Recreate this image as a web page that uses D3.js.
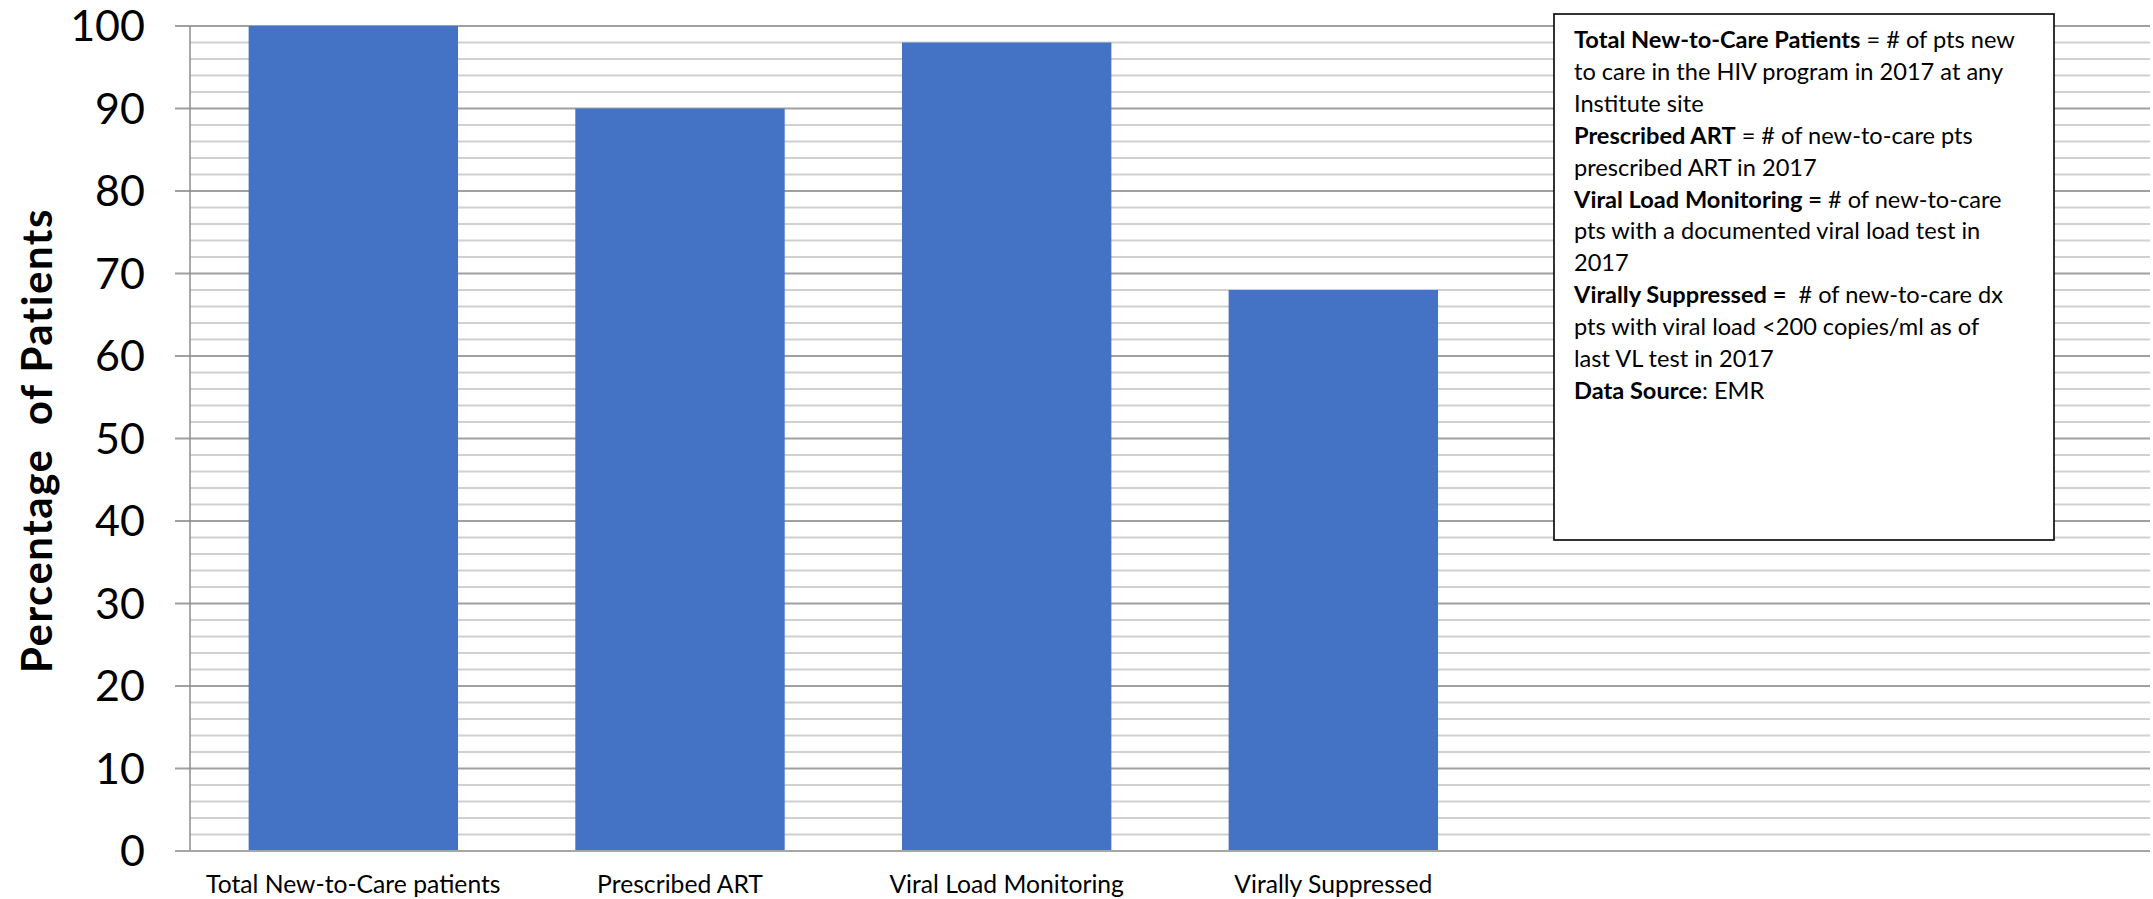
<!DOCTYPE html>
<html>
<head>
<meta charset="utf-8">
<script src="https://cdn.jsdelivr.net/npm/d3@7"></script>
<style>
  html, body { margin: 0; padding: 0; background: #fff; }
  svg { display: block; font-family: Lato, "Open Sans", sans-serif; }
</style>
</head>
<body>
<svg id="chart" width="2153" height="899"></svg>
<script>
// Category labels and their percentages
const categories = ["Total New-to-Care patients", "Prescribed ART", "Viral Load Monitoring", "Virally Suppressed"];
const values = [100, 90, 98, 68];
// The category axis holds six slots; the last two are left empty
const slotCount = 6;
const yMajorTicks = [0, 10, 20, 30, 40, 50, 60, 70, 80, 90, 100];
const yMinorStep = 2;
const yTitle = "Percentage\u00a0\u00a0of Patients";

// Definitions shown in the note box: [text, bold] parts per line
const noteLines = [
  [["Total New-to-Care Patients", true], [" = # of pts new", false]],
  [["to care in the HIV program in 2017 at any", false]],
  [["Institute site", false]],
  [["Prescribed ART", true], [" = # of new-to-care pts", false]],
  [["prescribed ART in 2017", false]],
  [["Viral Load Monitoring =", true], [" # of new-to-care", false]],
  [["pts with a documented viral load test in", false]],
  [["2017", false]],
  [["Virally Suppressed =", true], ["\u00a0 # of new-to-care dx", false]],
  [["pts with viral load <200 copies/ml as of", false]],
  [["last VL test in 2017", false]],
  [["Data Source", true], [": EMR", false]]
];

const svg = d3.select("#chart");
const plot = { left: 190, right: 2150, top: 26, bottom: 851 };

const x = d3.scaleBand()
  .domain(d3.range(slotCount))
  .range([plot.left, plot.right])
  .paddingInner(0.359)
  .paddingOuter(0.1795);

const y = d3.scaleLinear()
  .domain([0, 100])
  .range([plot.bottom, plot.top]);

// Minor gridlines every 2 units
const minor = d3.range(0, 101, yMinorStep).filter(v => v % 10 !== 0);
svg.append("g").selectAll("line").data(minor).join("line")
  .attr("x1", plot.left).attr("x2", plot.right)
  .attr("y1", d => y(d)).attr("y2", d => y(d))
  .attr("stroke", "#d0d0d0").attr("stroke-width", 1.8);

// Major gridlines with tick marks extending left of the axis
svg.append("g").selectAll("line").data(yMajorTicks.filter(v => v > 0)).join("line")
  .attr("x1", plot.left - 15).attr("x2", plot.right)
  .attr("y1", d => y(d)).attr("y2", d => y(d))
  .attr("stroke", "#a0a0a0").attr("stroke-width", 1.8);

// Vertical value axis line
svg.append("line")
  .attr("x1", plot.left).attr("x2", plot.left)
  .attr("y1", plot.top).attr("y2", plot.bottom)
  .attr("stroke", "#8c8c8c").attr("stroke-width", 1.5);

// Bars
svg.append("g").selectAll("rect").data(values).join("rect")
  .attr("x", (d, i) => x(i))
  .attr("width", x.bandwidth())
  .attr("y", d => y(d))
  .attr("height", d => y(0) - y(d))
  .attr("fill", "#4472C4");

// Category axis line
svg.append("line")
  .attr("x1", plot.left - 15).attr("x2", plot.right)
  .attr("y1", y(0)).attr("y2", y(0))
  .attr("stroke", "#a6a6a6").attr("stroke-width", 2);

// Value tick labels
svg.append("g").selectAll("text").data(yMajorTicks).join("text")
  .attr("x", 145)
  .attr("y", d => y(d))
  .attr("dy", "0.36em")
  .attr("text-anchor", "end")
  .attr("font-size", 43)
  .attr("fill", "#000")
  .text(d => d);

// Category labels
svg.append("g").selectAll("text").data(categories).join("text")
  .attr("x", (d, i) => x(i) + x.bandwidth() / 2)
  .attr("y", 893)
  .attr("text-anchor", "middle")
  .attr("font-size", 24.7)
  .attr("fill", "#000")
  .text(d => d);

// Value axis title
svg.append("text")
  .attr("transform", `translate(52, ${(plot.top + plot.bottom) / 2 + 2}) rotate(-90)`)
  .attr("text-anchor", "middle")
  .attr("font-size", 42)
  .attr("letter-spacing", 1.5)
  .attr("font-weight", "bold")
  .attr("fill", "#000")
  .text(yTitle);

// Note box with definitions
const box = { x: 1554, y: 14, w: 500, h: 526 };
svg.append("rect")
  .attr("x", box.x).attr("y", box.y)
  .attr("width", box.w).attr("height", box.h)
  .attr("fill", "#fff").attr("stroke", "#000").attr("stroke-width", 1.6);

const note = svg.append("text")
  .attr("font-size", 23.6)
  .attr("fill", "#000");
noteLines.forEach((parts, i) => {
  const line = note.append("tspan").attr("x", box.x + 20).attr("y", 48 + i * 31.9);
  parts.forEach(([txt, bold], j) => {
    const t = j === 0 ? line : note.append("tspan");
    t.attr("font-weight", bold ? "bold" : "normal").text(txt);
  });
});
</script>
</body>
</html>
